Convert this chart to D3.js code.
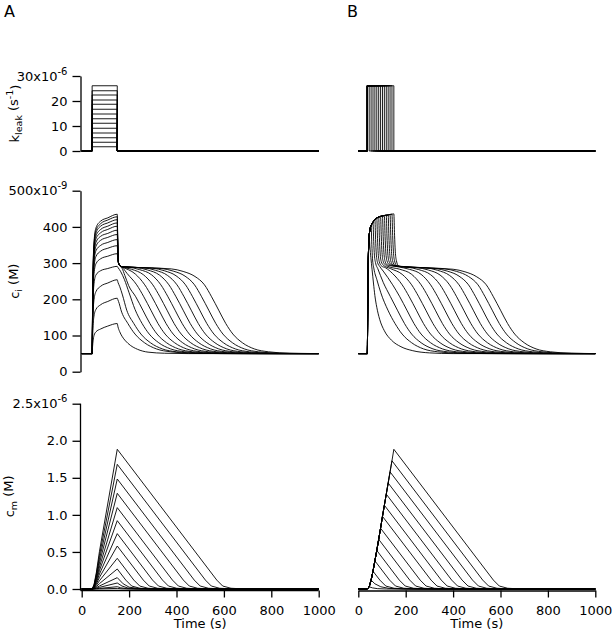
<!DOCTYPE html>
<html>
<head>
<meta charset="utf-8">
<script src="https://cdn.jsdelivr.net/npm/d3@7"></script>
<style>
  body { margin: 0; background: #fff; }
  svg { display: block; background: #fff; }
  text { font-family: "DejaVu Sans", sans-serif; fill: #000; }
</style>
</head>
<body>
<svg id="chart" width="612" height="640"></svg>
<script>
// ---- tick values ----
const timeTicks = [0, 200, 400, 600, 800, 1000];
const kleakTicks = [0, 10, 20, 30];            // x10^-6 s^-1
const ciTicks = [0, 100, 200, 300, 400, 500];  // x10^-9 M
const cmTicks = [0, 0.5, 1.0, 1.5, 2.0, 2.5];  // x10^-6 M

// ---- leak pulses ----
const pulseOnA = 44, pulseOffA = 150;
const kleakA = [1.7, 3.5, 5.3, 7.2, 9.1, 11.1, 12.9, 14.8, 16.7, 18.7, 20.4, 22.4, 24.1, 26.1];
const pulseOnB = 38;
const kleakB = 26.1;
const pulseOffB = [46, 54, 62, 70, 78, 86, 94, 102, 110, 118, 126, 134, 142, 150];

// ---- cytosolic Ca (nM), panel A, [time s, value] ----
const ciRest = 50;
const ciA = [
  [[46,71],[48,85],[52,100],[60,110],[80,118],[110,126],[150,133],[153,124],[160,111],[170,98],[185,85],[205,73],[235,62],[280,54],[350,51],[450,50],[1000,50]],
  [[46,96],[48,127],[52,154],[60,172],[80,185],[110,194],[150,203],[153,198],[158,189],[165,172],[195,133],[225,104],[265,80],[315,63],[375,55],[465,51],[585,50],[1000,50]],
  [[46,115],[48,160],[52,199],[60,221],[80,236],[110,245],[150,254],[153,247],[160,236],[172,212],[190,170],[220,133],[250,104],[290,80],[340,63],[400,55],[490,51],[610,50],[1000,50]],
  [[46,134],[48,195],[52,243],[60,267],[80,279],[110,285],[150,291],[153,288],[165,276],[180,255],[200,218],[225,172],[255,133],[285,104],[325,80],[375,63],[435,55],[525,51],[645,50],[1000,50]],
  [[46,147],[48,216],[52,271],[60,298],[80,312],[110,319],[150,326],[152,312],[155,300],[160,293],[170,286],[182,266],[198,238],[228,207],[258,170],[288,133],[318,104],[358,80],[408,63],[468,55],[558,51],[678,50],[1000,50]],
  [[46,154],[48,229],[52,288],[60,318],[80,333],[110,341],[150,348],[152,324],[155,302],[160,294],[170,289],[192,271],[232,240],[262,207],[292,170],[322,133],[352,104],[392,80],[442,63],[502,55],[592,51],[712,50],[1000,50]],
  [[46,160],[48,239],[52,302],[60,334],[80,349],[110,357],[150,365],[152,332],[155,302],[160,294],[170,290],[226,270],[266,240],[296,207],[326,170],[356,133],[386,104],[426,80],[476,63],[536,55],[626,51],[746,50],[1000,50]],
  [[46,165],[48,247],[52,313],[60,346],[80,363],[110,371],[150,379],[152,340],[155,302],[160,294],[170,290],[210,283],[260,268],[300,240],[330,207],[360,170],[390,133],[420,104],[460,80],[510,63],[570,55],[660,51],[780,50],[1000,50]],
  [[46,169],[48,255],[52,323],[60,357],[80,374],[110,382],[150,391],[152,345],[155,302],[160,294],[170,290],[194,289],[244,282],[294,268],[334,240],[364,207],[394,170],[424,133],[454,104],[494,80],[544,63],[604,55],[694,51],[814,50],[1000,50]],
  [[46,173],[48,261],[52,332],[60,367],[80,384],[110,393],[150,402],[152,351],[155,302],[160,294],[170,290],[228,288],[278,281],[328,267],[368,240],[398,207],[428,170],[458,133],[488,104],[528,80],[578,63],[638,55],[728,51],[848,50],[1000,50]],
  [[46,176],[48,267],[52,339],[60,375],[80,393],[110,402],[150,411],[152,355],[155,302],[160,294],[170,290],[262,287],[312,280],[362,266],[402,240],[432,207],[462,170],[492,133],[522,104],[562,80],[612,63],[672,55],[762,51],[882,50],[1000,50]],
  [[46,180],[48,272],[52,346],[60,383],[80,402],[110,411],[150,420],[152,360],[155,302],[160,294],[170,290],[298,286],[348,279],[398,265],[438,240],[468,207],[498,170],[528,133],[558,104],[598,80],[648,63],[708,55],[798,51],[918,50],[1000,50]],
  [[46,182],[48,277],[52,352],[60,390],[80,409],[110,419],[150,428],[152,364],[155,302],[160,294],[170,290],[336,285],[386,278],[436,264],[476,240],[506,207],[536,170],[566,133],[596,104],[636,80],[686,63],[746,55],[836,51],[956,50],[1000,50]],
  [[46,185],[48,281],[52,358],[60,397],[80,416],[110,425],[150,435],[152,367],[155,302],[160,294],[170,290],[378,284],[428,277],[478,263],[518,240],[548,207],[578,170],[608,133],[638,104],[678,80],[728,63],[788,55],[878,51],[998,50],[1000,50]]
];

// ---- cytosolic Ca (nM), panel B: common rise, then each trace from its pulse end ----
const ciRiseB = [[0,50],[38,50],[40,190],[42,300],[45,365],[49,392],[55,405],[65,416],[77,424],[100,430],[125,433],[150,436]];
const ciB = [
  [[46,373],[49,345],[53,315],[58,283],[64,245],[70,210],[78,178],[90,145],[110,113],[140,87],[180,69],[230,58],[300,52],[400,50],[1000,50]],
  [[54,403],[57,352],[60,312],[66,284],[78,255],[95,218],[125,170],[155,133],[185,104],[225,80],[275,63],[335,55],[425,51],[545,50],[1000,50]],
  [[62,413],[65,360],[68,322],[73,300],[82,285],[105,247],[135,208],[165,170],[195,133],[225,104],[265,80],[315,63],[375,55],[465,51],[585,50],[1000,50]],
  [[70,420],[73,365],[76,325],[81,302],[90,291],[105,278],[145,240],[175,207],[205,170],[235,133],[265,104],[305,80],[355,63],[415,55],[505,51],[625,50],[1000,50]],
  [[78,424],[81,368],[84,327],[89,303],[98,292],[115,287],[145,271],[185,240],[215,207],[245,170],[275,133],[305,104],[345,80],[395,63],[455,55],[545,51],[665,50],[1000,50]],
  [[86,426],[89,370],[92,328],[97,304],[106,294],[135,285],[185,269],[225,240],[255,207],[285,170],[315,133],[345,104],[385,80],[435,63],[495,55],[585,51],[705,50],[1000,50]],
  [[94,428],[97,372],[100,329],[105,305],[114,295],[125,291],[175,283],[225,269],[265,240],[295,207],[325,170],[355,133],[385,104],[425,80],[475,63],[535,55],[625,51],[745,50],[1000,50]],
  [[102,430],[105,373],[108,330],[113,305],[122,295],[165,290],[215,283],[265,269],[305,240],[335,207],[365,170],[395,133],[425,104],[465,80],[515,63],[575,55],[665,51],[785,50],[1000,50]],
  [[110,431],[113,374],[116,331],[121,306],[130,296],[150,292],[205,289],[255,282],[305,268],[345,240],[375,207],[405,170],[435,133],[465,104],[505,80],[555,63],[615,55],[705,51],[825,50],[1000,50]],
  [[118,432],[121,375],[124,331],[129,306],[138,296],[160,292],[245,288],[295,281],[345,267],[385,240],[415,207],[445,170],[475,133],[505,104],[545,80],[595,63],[655,55],[745,51],[865,50],[1000,50]],
  [[126,433],[129,375],[132,332],[137,306],[146,295],[170,291],[285,287],[335,280],[385,266],[425,240],[455,207],[485,170],[515,133],[545,104],[585,80],[635,63],[695,55],[785,51],[905,50],[1000,50]],
  [[134,434],[137,376],[140,332],[145,306],[154,294],[175,291],[325,285],[375,278],[425,264],[465,240],[495,207],[525,170],[555,133],[585,104],[625,80],[675,63],[735,55],[825,51],[945,50],[1000,50]],
  [[142,435],[145,376],[148,333],[153,306],[162,293],[180,290],[365,284],[415,277],[465,263],[505,240],[535,207],[565,170],[595,133],[625,104],[665,80],[715,63],[775,55],[865,51],[985,50],[1000,50]],
  [[150,436],[153,377],[156,333],[161,306],[170,292],[185,290],[400,283],[450,276],[500,262],[540,240],[570,207],[600,170],[630,133],[660,104],[700,80],[750,63],[810,55],[900,51],[1000,50]]
];

// ---- mitochondrial Ca (uM), panel A ----
const cmA = [
  [[62,0.001],[75,0.002],[150,0.008],[170,0.003],[220,0],[1000,0]],
  [[52,0.001],[62,0.004],[75,0.008],[150,0.031],[165,0.016],[190,0.005],[240,0],[1000,0]],
  [[52,0.002],[62,0.010],[75,0.022],[150,0.081],[170,0.04],[195,0.013],[230,0.003],[280,0],[1000,0]],
  [[52,0.005],[62,0.018],[75,0.041],[150,0.153],[175,0.07],[200,0.025],[240,0.006],[300,0],[1000,0]],
  [[52,0.008],[62,0.032],[75,0.073],[150,0.270],[186,0.12],[211,0.04],[246,0.01],[306,0],[1000,0]],
  [[52,0.012],[62,0.050],[75,0.112],[150,0.414],[220,0.12],[245,0.04],[280,0.01],[340,0],[1000,0]],
  [[52,0.017],[62,0.070],[75,0.157],[150,0.580],[260,0.12],[285,0.04],[320,0.01],[380,0],[1000,0]],
  [[52,0.022],[62,0.090],[75,0.202],[150,0.747],[299,0.12],[324,0.04],[359,0.01],[419,0],[1000,0]],
  [[52,0.028],[62,0.111],[75,0.249],[150,0.922],[341,0.12],[366,0.04],[401,0.01],[461,0],[1000,0]],
  [[52,0.033],[62,0.132],[75,0.296],[150,1.098],[383,0.12],[408,0.04],[443,0.01],[503,0],[1000,0]],
  [[52,0.039],[62,0.155],[75,0.349],[150,1.291],[429,0.12],[454,0.04],[489,0.01],[549,0],[1000,0]],
  [[52,0.045],[62,0.178],[75,0.401],[150,1.484],[475,0.12],[500,0.04],[535,0.01],[595,0],[1000,0]],
  [[52,0.050],[62,0.202],[75,0.454],[150,1.682],[522,0.12],[547,0.04],[582,0.01],[642,0],[1000,0]],
  [[52,0.057],[62,0.226],[75,0.509],[150,1.885],[570,0.12],[595,0.04],[630,0.01],[690,0],[1000,0]]
];

// ---- mitochondrial Ca (uM), panel B: common rise, then decay from pulse end ----
const cmRiseB = [[0,0],[38,0],[46,0.03],[54,0.12],[62,0.24],[70,0.38],[78,0.52],[86,0.67],[94,0.82],[102,0.98],[110,1.13],[118,1.28],[126,1.43],[134,1.58],[142,1.73],[150,1.885]];
const cmB = [
  [[46,0.03],[60,0.015],[80,0.005],[120,0],[1000,0]],
  [[54,0.12],[70,0.07],[95,0.03],[130,0.008],[190,0],[1000,0]],
  [[62,0.24],[91,0.12],[116,0.04],[151,0.01],[211,0],[1000,0]],
  [[70,0.38],[132,0.12],[157,0.04],[192,0.01],[252,0],[1000,0]],
  [[78,0.52],[173,0.12],[198,0.04],[233,0.01],[293,0],[1000,0]],
  [[86,0.67],[217,0.12],[242,0.04],[277,0.01],[337,0],[1000,0]],
  [[94,0.82],[261,0.12],[286,0.04],[321,0.01],[381,0],[1000,0]],
  [[102,0.98],[307,0.12],[332,0.04],[367,0.01],[427,0],[1000,0]],
  [[110,1.13],[350,0.12],[375,0.04],[410,0.01],[470,0],[1000,0]],
  [[118,1.28],[394,0.12],[419,0.04],[454,0.01],[514,0],[1000,0]],
  [[126,1.43],[438,0.12],[463,0.04],[498,0.01],[558,0],[1000,0]],
  [[134,1.58],[482,0.12],[507,0.04],[542,0.01],[602,0],[1000,0]],
  [[142,1.73],[525,0.12],[550,0.04],[585,0.01],[645,0],[1000,0]],
  [[150,1.885],[570,0.12],[595,0.04],[630,0.01],[690,0],[1000,0]]
];

const svg = d3.select("#chart");

// scales
const xA = d3.scaleLinear().domain([0, 1000]).range([81.7, 318.7]);
const xB = d3.scaleLinear().domain([0, 1000]).range([358.3, 595.3]);
const yK = d3.scaleLinear().domain([0, 30]).range([151, 76]);
const yCi = d3.scaleLinear().domain([0, 500]).range([371.7, 190.7]);
const yCm = d3.scaleLinear().domain([0, 2.5]).range([589, 403.7]);

function drawTraces(traces, x, y, curve) {
    const line = d3.line()
        .x(d => x(d[0]))
        .y(d => y(d[1]))
        .curve(curve);
    svg.append("g")
        .selectAll("path")
        .data(traces)
        .join("path")
        .attr("d", line)
        .attr("fill", "none")
        .attr("stroke", "#000")
        .attr("stroke-width", 0.9)
        .attr("stroke-linejoin", "round");
}

// build full traces from the pieces
const kTracesA = kleakA.map(k => [[0,0],[pulseOnA,0],[pulseOnA,k],[pulseOffA,k],[pulseOffA,0],[1000,0]]);
const kTracesB = pulseOffB.map(off => [[0,0],[pulseOnB,0],[pulseOnB,kleakB],[off,kleakB],[off,0],[1000,0]]);
const ciTracesA = ciA.map(tr => [[0,ciRest],[pulseOnA,ciRest]].concat(tr));
const ciTracesB = ciB.map(tr => ciRiseB.filter(p => p[0] < tr[0][0]).concat(tr));
const cmTracesA = cmA.map(tr => [[0,0],[pulseOnA,0]].concat(tr));
const cmTracesB = cmB.map(tr => cmRiseB.filter(p => p[0] < tr[0][0]).concat(tr));

drawTraces(kTracesA, xA, yK, d3.curveLinear);
drawTraces(kTracesB, xB, yK, d3.curveLinear);
drawTraces(ciTracesA, xA, yCi, d3.curveMonotoneX);
drawTraces(ciTracesB, xB, yCi, d3.curveMonotoneX);
drawTraces(cmTracesA, xA, yCm, d3.curveLinear);
drawTraces(cmTracesB, xB, yCm, d3.curveLinear);

// y axes (panel A only)
const axisX = 80.5;
function styleAxis(g) {
    g.attr("font-family", "DejaVu Sans, sans-serif").attr("font-size", 13);
    g.selectAll("path, line").attr("stroke", "#000").attr("stroke-width", 1.3);
    g.selectAll("text").attr("fill", "#000");
}
function yAxis(scale, ticks, fmt, exp) {
    const g = svg.append("g")
        .attr("transform", `translate(${axisX},0)`)
        .call(d3.axisLeft(scale).tickValues(ticks).tickFormat(fmt)
            .tickSize(8).tickPadding(5).tickSizeOuter(0))
        .call(styleAxis);
    const top = ticks[ticks.length - 1];
    g.selectAll(".tick text").filter(d => d === top)
        .text(null)
        .call(t => {
            t.append("tspan").text(fmt(top) + "x10");
            t.append("tspan").attr("dy", "-0.6em").attr("font-size", 10).text(exp);
        });
    return g;
}
yAxis(yK, kleakTicks, d3.format("d"), "-6");
yAxis(yCi, ciTicks, d3.format("d"), "-9");
const gCm = yAxis(yCm, cmTicks, d3.format(".1f"), "-6");
gCm.select(".domain").attr("d", `M0,590.5V${yCm(2.5)}`);

// time axes
function xAxis(scale, extendLeft) {
    const g = svg.append("g")
        .attr("transform", "translate(0,590.5)")
        .call(d3.axisBottom(scale).tickValues(timeTicks).tickFormat(d3.format("d"))
            .tickSize(7).tickPadding(8).tickSizeOuter(0))
        .call(styleAxis);
    if (extendLeft) g.select(".domain").attr("d", `M${axisX},0H${scale(1000)}`);
    const r = scale.range();
    svg.append("text")
        .attr("x", (r[0] + r[1]) / 2)
        .attr("y", 628)
        .attr("text-anchor", "middle")
        .attr("font-size", 13)
        .text("Time (s)");
}
xAxis(xA, true);
xAxis(xB, false);

// y axis titles
function yTitle(x, yc, main, sub, unit, sup) {
    const t = svg.append("text")
        .attr("transform", `translate(${x},${yc}) rotate(-90)`)
        .attr("text-anchor", "middle")
        .attr("font-size", 13);
    t.append("tspan").text(main);
    t.append("tspan").attr("font-size", 9.5).attr("dy", "0.3em").text(sub);
    t.append("tspan").attr("dy", "-0.3em").text(" (" + unit);
    if (sup) {
        t.append("tspan").attr("font-size", 9.5).attr("dy", "-0.5em").text(sup);
        t.append("tspan").attr("dy", "0.5em").text(")");
    } else {
        t.append("tspan").text(")");
    }
}
yTitle(19, (yK.range()[0] + yK.range()[1]) / 2, "k", "leak", "s", "-1");
yTitle(19, (yCi.range()[0] + yCi.range()[1]) / 2, "c", "i", "M", null);
yTitle(14, (yCm.range()[0] + yCm.range()[1]) / 2, "c", "m", "M", null);

// panel letters
svg.append("text").attr("x", 4).attr("y", 17).attr("font-size", 16).text("A");
svg.append("text").attr("x", 347).attr("y", 17).attr("font-size", 16).text("B");
</script>
</body>
</html>
